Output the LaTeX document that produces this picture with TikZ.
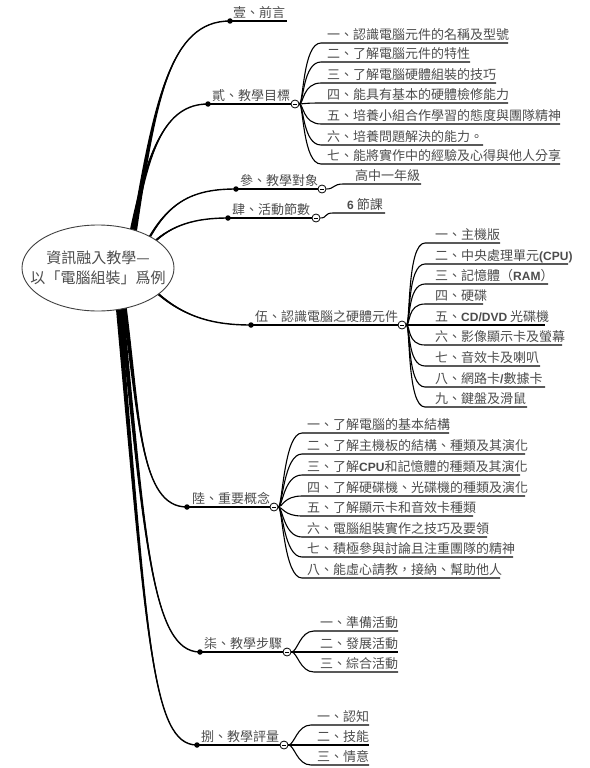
\documentclass[tikz,border=0pt]{standalone}
\usepackage{fontspec}
\newfontfamily\cjk{Noto Sans CJK TC}
\newfontfamily\latf{Liberation Sans}
\newcommand\en[1]{{\latf\bfseries\fontsize{12}{12}\selectfont #1}}
\usetikzlibrary{calc}
\pgfdeclarelayer{bg}
\pgfsetlayers{bg,main}
\newcommand\twig[5]{%
 \fill ($#1+#5$) .. controls ($#2+0.5*#5$) and #3 .. #4 .. controls #3 and ($#2-0.5*#5$) .. ($#1-#5$) -- cycle;
 \draw[line width=1.4pt] #1 .. controls #2 and #3 .. #4;}
\newcommand\knobat[2]{\node[knob] (#1) at (#2) {};
 \draw[line width=0.7pt] ([xshift=-2.2pt]#1.center) -- ([xshift=2.2pt]#1.center);}
\begin{document}
\begin{tikzpicture}[x=1pt,y=-1pt,
 lbl/.style={font=\cjk\fontsize{13}{13}\selectfont, text=black!70, anchor=base west, inner sep=0pt},
 dotm/.style={circle, fill=black, inner sep=0pt, minimum size=5.5pt},
 knob/.style={circle, draw=black, fill=white, line width=0.8pt, inner sep=0pt, minimum size=8pt},
 uline/.style={line width=1.3pt},
 kline/.style={line width=1.1pt}]
\useasboundingbox (0,0) rectangle (589,768);

% central topic
\coordinate (c0) at (98,268);
\filldraw[draw=black!75, fill=white, line width=0.9pt] (c0) ellipse [x radius=76, y radius=43];
\node[font=\cjk\fontsize{15}{20}\selectfont, text=black!70, align=center, inner sep=0pt] (c) at (98,268) {資訊融入教學—\\以「電腦組裝」爲例};

% roots of branches
\coordinate (r1) at (134,232);
\coordinate (r2) at (132,232);
\coordinate (r3) at (148,240);
\coordinate (r4) at (153,243);
\coordinate (r5) at (156,292);
\coordinate (r6) at (124,305);
\coordinate (r7) at (121,305);
\coordinate (r8) at (118,305);

% level-1 dots, knobs, lines, labels
\node[dotm] (d1) at (230,21) {};
\coordinate (e1) at (287,21);
\draw[uline] (d1.center) -- (e1);
\node[lbl] (t1) at (233,17.5) {壹、前言};

\node[dotm] (d2) at (208,104) {};
\knobat{k2}{295,104}
\draw[uline] (d2.center) -- (k2.west);
\node[lbl] (t2) at (212,100.5) {貳、教學目標};

\node[dotm] (d3) at (236,189) {};
\knobat{k3}{322,189}
\draw[uline] (d3.center) -- (k3.west);
\node[lbl] (t3) at (240,185.5) {參、教學對象};

\node[dotm] (d4) at (228,218) {};
\knobat{k4}{316,218}
\draw[uline] (d4.center) -- (k4.west);
\node[lbl] (t4) at (232,214.5) {肆、活動節數};

\node[dotm] (d5) at (251,325) {};
\knobat{k5}{402,325}
\draw[uline] (d5.center) -- (k5.west);
\node[lbl] (t5) at (255,321.5) {伍、認識電腦之硬體元件};

\node[dotm] (d6) at (187,507) {};
\knobat{k6}{274,507}
\draw[uline] (d6.center) -- (k6.west);
\node[lbl] (t6) at (192,503.5) {陸、重要概念};

\node[dotm] (d7) at (200,652) {};
\knobat{k7}{287,652}
\draw[uline] (d7.center) -- (k7.west);
\node[lbl] (t7) at (204,648.5) {柒、教學步驟};

\node[dotm] (d8) at (197,745) {};
\knobat{k8}{284,745}
\draw[uline] (d8.center) -- (k8.west);
\node[lbl] (t8) at (201,741.5) {捌、教學評量};

% main branches (tapered)
\begin{pgfonlayer}{bg}
\twig{(r1)}{(155,100)}{(170,21)}{(d1.center)}{(2.8,0)}
\twig{(r2)}{(148,150)}{(165,104)}{(d2.center)}{(2.6,0)}
\twig{(r3)}{(170,200)}{(195,189)}{(d3.center)}{(1,0.6)}
\twig{(r4)}{(172,225)}{(195,218)}{(d4.center)}{(0.8,0.8)}
\twig{(r5)}{(185,318)}{(215,325)}{(d5.center)}{(-0.8,0.8)}
\twig{(r6)}{(140,420)}{(140,507)}{(d6.center)}{(2.4,0)}
\twig{(r7)}{(145,540)}{(152,652)}{(d7.center)}{(2.4,0)}
\twig{(r8)}{(147,640)}{(152,745)}{(d8.center)}{(2.4,0)}
\end{pgfonlayer}

% children of 貳
\foreach \y/\r/\t [count=\i] in {
 43/508/{一、認識電腦元件的名稱及型號},
 62/470/{二、了解電腦元件的特性},
 83/496/{三、了解電腦硬體組裝的技巧},
 103/508/{四、能具有基本的硬體檢修能力},
 124/560/{五、培養小組合作學習的態度與團隊精神},
 145/483/{六、培養問題解決的能力。},
 164/560/{七、能將實作中的經驗及心得與他人分享}} {
 \coordinate (b\i) at (321,\y);
 \draw[kline] (k2.east) .. controls +(4,0) and +(-18,0) .. (b\i) -- (\r,\y);
 \node[lbl] (bt\i) at (327,\y-3.5) {\t};
}

% child of 參
\coordinate (cc1) at (343,184);
\draw[kline] (k3.east) .. controls +(8,0) and +(-10,0) .. (cc1) -- (421,184);
\node[lbl] (ct1) at (355,180.5) {高中一年級};

% child of 肆
\coordinate (dc1) at (333,213);
\draw[kline] (k4.east) .. controls +(7,0) and +(-9,0) .. (dc1) -- (385,213);
\node[lbl] (dt1) at (347,209.5) {\en{6} 節課};

% children of 伍
\foreach \y/\r/\t [count=\i] in {
 243/500/{一、主機版},
 264/568/{二、中央處理單元\en{(CPU)}},
 284/548/{三、記憶體（\en{RAM}）},
 304/483/{四、硬碟},
 325/545/{五、\en{CD/DVD} 光碟機},
 345/562/{六、影像顯示卡及螢幕},
 366/540/{七、音效卡及喇叭},
 387/545/{八、網路卡\en{/}數據卡},
 407/527/{九、鍵盤及滑鼠}} {
 \coordinate (f\i) at (425,\y);
 \draw[kline] (k5.east) .. controls +(4,0) and +(-18,0) .. (f\i) -- (\r,\y);
 \node[lbl] (ft\i) at (435,\y-3.5) {\t};
}

% children of 陸
\foreach \y/\r/\t [count=\i] in {
 433/449/{一、了解電腦的基本結構},
 454/525/{二、了解主機板的結構、種類及其演化},
 475/520/{三、了解\en{CPU}和記憶體的種類及其演化},
 496/525/{四、了解硬碟機、光碟機的種類及演化},
 516/473/{五、了解顯示卡和音效卡種類},
 537/487/{六、電腦組裝實作之技巧及要領},
 557/513/{七、積極參與討論且注重團隊的精神},
 578/500/{八、能虛心請教，接納、幫助他人}} {
 \coordinate (g\i) at (302,\y);
 \draw[kline] (k6.east) .. controls +(4,0) and +(-18,0) .. (g\i) -- (\r,\y);
 \node[lbl] (gt\i) at (307,\y-3.5) {\t};
}

% children of 柒
\foreach \y/\t [count=\i] in {
 631/{一、準備活動},
 652/{二、發展活動},
 672/{三、綜合活動}} {
 \coordinate (h\i) at (314,\y);
 \draw[kline] (k7.east) .. controls +(6,0) and +(-14,0) .. (h\i) -- (398,\y);
 \node[lbl] (ht\i) at (320,\y-3.5) {\t};
}

% children of 捌
\foreach \y/\t [count=\i] in {
 725/{一、認知},
 745/{二、技能},
 765/{三、情意}} {
 \coordinate (m\i) at (311,\y);
 \draw[kline] (k8.east) .. controls +(6,0) and +(-14,0) .. (m\i) -- (369,\y);
 \node[lbl] (mt\i) at (317,\y-3.5) {\t};
}
\end{tikzpicture}
\end{document}
